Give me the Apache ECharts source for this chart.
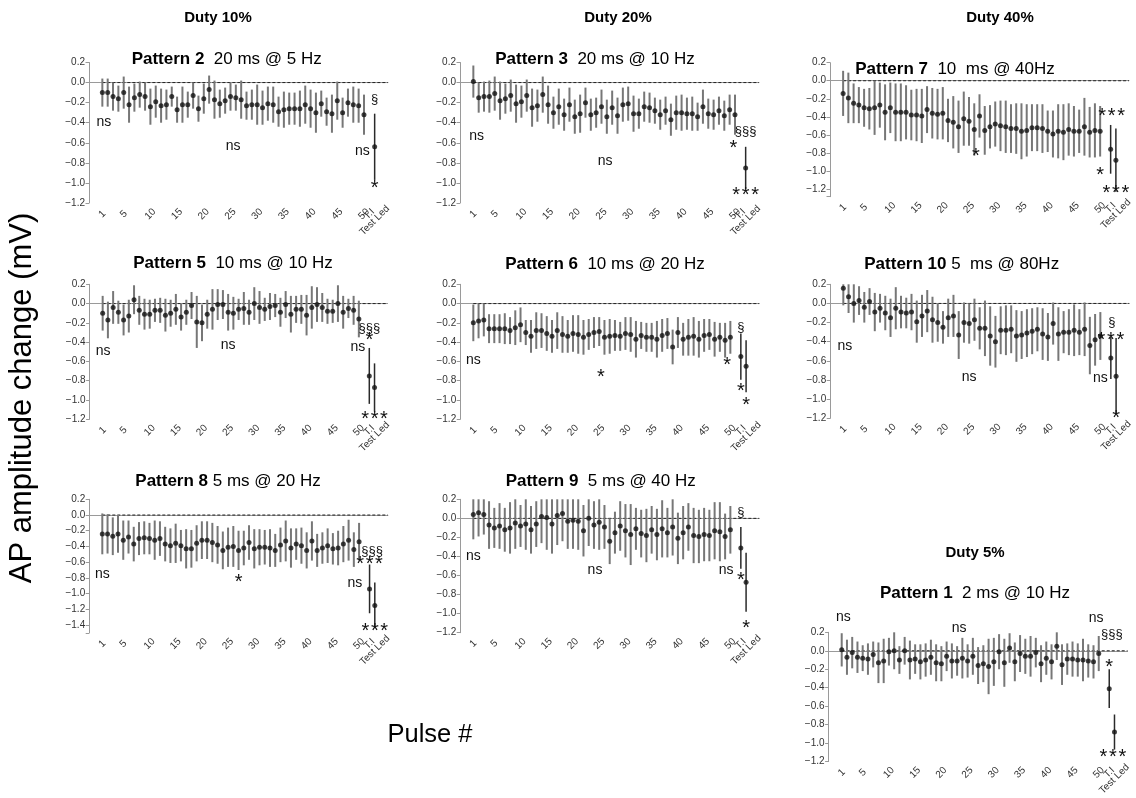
<!DOCTYPE html>
<html><head><meta charset="utf-8">
<script src="https://cdn.jsdelivr.net/npm/echarts@6/dist/echarts.min.js"></script>
<style>html,body{margin:0;padding:0;background:#fff}#c{width:1136px;height:798px}</style>
</head><body><div id="c"></div>
<script>
// ---------- categories / tick labels ----------
const pulseLabels = ['1','2','3','4','5','6','7','8','9','10','11','12','13','14','15','16','17','18','19','20','21','22','23','24','25','26','27','28','29','30','31','32','33','34','35','36','37','38','39','40','41','42','43','44','45','46','47','48','49','50'];
const catsShort = pulseLabels.concat(['T.I','Test Led']);          // 52 positions
const catsLong  = pulseLabels.concat(['', 'T.I','Test Led']);      // 53 positions
const shownTickLabels = ['1','5','10','15','20','25','30','35','40','45','50','T.I','Test Led'];

// ---------- series values (mean, error half-length) ----------
const p2Mean = [-0.10,-0.10,-0.14,-0.16,-0.10,-0.22,-0.15,-0.12,-0.14,-0.24,-0.19,-0.23,-0.22,-0.14,-0.27,-0.22,-0.22,-0.13,-0.26,-0.16,-0.07,-0.17,-0.21,-0.18,-0.14,-0.15,-0.17,-0.23,-0.22,-0.22,-0.25,-0.21,-0.22,-0.29,-0.27,-0.26,-0.26,-0.26,-0.22,-0.26,-0.30,-0.21,-0.29,-0.31,-0.18,-0.30,-0.20,-0.22,-0.23,-0.32, null,-0.64];
const p2Err  = [0.14,0.14,0.14,0.13,0.16,0.18,0.14,0.13,0.14,0.18,0.16,0.17,0.15,0.10,0.13,0.18,0.13,0.13,0.13,0.15,0.14,0.19,0.14,0.13,0.14,0.13,0.19,0.14,0.15,0.20,0.17,0.17,0.18,0.15,0.18,0.16,0.16,0.18,0.19,0.19,0.20,0.13,0.14,0.19,0.19,0.15,0.14,0.18,0.17,0.20, null,0.33];
const p3Mean = [0.01,-0.15,-0.14,-0.14,-0.11,-0.18,-0.16,-0.13,-0.21,-0.19,-0.13,-0.25,-0.23,-0.12,-0.22,-0.30,-0.24,-0.32,-0.22,-0.34,-0.31,-0.20,-0.32,-0.30,-0.24,-0.34,-0.25,-0.33,-0.22,-0.21,-0.31,-0.31,-0.24,-0.25,-0.28,-0.32,-0.28,-0.37,-0.30,-0.30,-0.31,-0.31,-0.34,-0.24,-0.31,-0.32,-0.28,-0.33,-0.27,-0.32, null,-0.85];
const p3Err  = [0.16,0.15,0.15,0.16,0.17,0.19,0.15,0.16,0.19,0.16,0.16,0.19,0.16,0.18,0.19,0.16,0.18,0.16,0.17,0.17,0.19,0.15,0.16,0.15,0.17,0.17,0.17,0.18,0.17,0.17,0.18,0.15,0.15,0.15,0.13,0.15,0.14,0.16,0.17,0.18,0.16,0.17,0.14,0.17,0.15,0.15,0.14,0.15,0.15,0.20, null,0.21];
const p7Mean = [-0.14,-0.19,-0.25,-0.27,-0.30,-0.31,-0.30,-0.27,-0.35,-0.30,-0.35,-0.35,-0.35,-0.38,-0.38,-0.39,-0.32,-0.36,-0.37,-0.36,-0.44,-0.46,-0.51,-0.42,-0.45,-0.54,-0.39,-0.55,-0.51,-0.48,-0.50,-0.51,-0.53,-0.53,-0.56,-0.55,-0.52,-0.52,-0.53,-0.56,-0.59,-0.56,-0.57,-0.54,-0.56,-0.56,-0.51,-0.57,-0.55,-0.56, null,-0.76,-0.88];
const p7Err  = [0.25,0.28,0.22,0.20,0.21,0.23,0.30,0.25,0.31,0.28,0.32,0.32,0.30,0.28,0.29,0.30,0.26,0.28,0.28,0.29,0.24,0.29,0.29,0.30,0.27,0.29,0.24,0.27,0.24,0.25,0.28,0.29,0.27,0.28,0.31,0.29,0.26,0.26,0.27,0.23,0.26,0.30,0.31,0.29,0.28,0.24,0.32,0.28,0.30,0.28, null,0.27,0.35];
const p5Mean = [-0.10,-0.17,-0.04,-0.09,-0.17,-0.13,0.04,-0.07,-0.11,-0.11,-0.07,-0.07,-0.12,-0.10,-0.06,-0.14,-0.09,-0.02,-0.19,-0.20,-0.11,-0.06,-0.01,-0.01,-0.09,-0.10,-0.06,-0.05,-0.09,0.00,-0.04,-0.06,-0.03,-0.02,-0.09,-0.01,-0.11,-0.06,-0.06,-0.12,-0.04,-0.01,-0.04,-0.08,-0.08,0.00,-0.09,-0.05,-0.07,-0.16, null,-0.75,-0.87];
const p5Err  = [0.18,0.19,0.17,0.12,0.16,0.17,0.15,0.15,0.16,0.15,0.12,0.13,0.17,0.14,0.16,0.14,0.13,0.14,0.27,0.19,0.15,0.21,0.16,0.15,0.19,0.17,0.11,0.17,0.13,0.17,0.17,0.12,0.14,0.12,0.15,0.14,0.19,0.14,0.15,0.21,0.22,0.18,0.15,0.13,0.12,0.19,0.17,0.10,0.15,0.19, null,0.29,0.25];
const p6Mean = [-0.20,-0.18,-0.17,-0.26,-0.26,-0.26,-0.26,-0.28,-0.25,-0.22,-0.30,-0.34,-0.28,-0.28,-0.31,-0.34,-0.28,-0.32,-0.34,-0.31,-0.32,-0.35,-0.32,-0.30,-0.29,-0.35,-0.34,-0.33,-0.34,-0.31,-0.32,-0.37,-0.33,-0.35,-0.35,-0.37,-0.33,-0.31,-0.45,-0.30,-0.37,-0.35,-0.34,-0.37,-0.33,-0.32,-0.37,-0.35,-0.38,-0.35, null,-0.55,-0.65];
const p6Err  = [0.19,0.18,0.17,0.15,0.15,0.15,0.16,0.14,0.18,0.18,0.13,0.17,0.19,0.18,0.18,0.17,0.19,0.19,0.17,0.19,0.20,0.18,0.16,0.16,0.15,0.18,0.18,0.16,0.15,0.17,0.18,0.19,0.14,0.15,0.15,0.19,0.17,0.16,0.18,0.16,0.17,0.19,0.20,0.19,0.17,0.16,0.18,0.15,0.18,0.17, null,0.24,0.27];
const p10Mean = [0.16,0.07,0.00,0.03,-0.04,0.02,-0.09,-0.05,-0.10,-0.15,-0.05,-0.09,-0.10,-0.09,-0.19,-0.13,-0.08,-0.17,-0.20,-0.25,-0.15,-0.13,-0.33,-0.20,-0.21,-0.17,-0.26,-0.26,-0.34,-0.40,-0.28,-0.28,-0.27,-0.34,-0.33,-0.31,-0.29,-0.27,-0.32,-0.35,-0.21,-0.32,-0.30,-0.30,-0.28,-0.30,-0.27,-0.44,-0.38,-0.34, null,-0.57,-0.76];
const p10Err  = [0.18,0.17,0.20,0.15,0.16,0.14,0.20,0.15,0.18,0.20,0.22,0.17,0.16,0.19,0.22,0.22,0.22,0.24,0.20,0.17,0.20,0.22,0.25,0.21,0.21,0.22,0.22,0.29,0.31,0.27,0.25,0.26,0.25,0.27,0.25,0.25,0.24,0.23,0.27,0.25,0.22,0.28,0.22,0.24,0.27,0.24,0.28,0.30,0.27,0.25, null,0.22,0.40];
const p8Mean = [-0.24,-0.24,-0.27,-0.24,-0.32,-0.28,-0.37,-0.30,-0.29,-0.30,-0.32,-0.30,-0.37,-0.39,-0.36,-0.39,-0.43,-0.43,-0.36,-0.32,-0.32,-0.35,-0.38,-0.45,-0.41,-0.40,-0.45,-0.42,-0.35,-0.43,-0.41,-0.41,-0.42,-0.45,-0.38,-0.33,-0.42,-0.37,-0.39,-0.45,-0.33,-0.45,-0.42,-0.39,-0.43,-0.42,-0.37,-0.32,-0.44,-0.34, null,-0.94,-1.15];
const p8Err  = [0.26,0.25,0.24,0.24,0.25,0.21,0.22,0.21,0.21,0.20,0.25,0.22,0.22,0.22,0.25,0.20,0.25,0.24,0.23,0.24,0.24,0.25,0.24,0.24,0.25,0.26,0.25,0.22,0.22,0.25,0.23,0.22,0.24,0.21,0.22,0.26,0.25,0.20,0.23,0.23,0.25,0.21,0.20,0.22,0.20,0.22,0.23,0.26,0.22,0.24, null,0.31,0.29];
const p9Mean = [0.04,0.06,0.04,-0.07,-0.10,-0.08,-0.12,-0.10,-0.05,-0.08,-0.06,-0.12,-0.06,0.02,0.01,-0.06,0.03,0.05,-0.03,-0.02,-0.03,-0.13,0.00,-0.07,-0.04,-0.09,-0.24,-0.15,-0.08,-0.13,-0.17,-0.11,-0.16,-0.18,-0.12,-0.17,-0.11,-0.15,-0.09,-0.21,-0.15,-0.09,-0.18,-0.19,-0.17,-0.18,-0.13,-0.14,-0.19,-0.12, null,-0.31,-0.67];
const p9Err  = [0.26,0.25,0.21,0.25,0.21,0.24,0.23,0.27,0.27,0.22,0.27,0.25,0.24,0.28,0.34,0.31,0.31,0.29,0.29,0.30,0.30,0.27,0.29,0.25,0.29,0.23,0.24,0.22,0.26,0.28,0.32,0.22,0.25,0.28,0.25,0.27,0.30,0.26,0.30,0.27,0.28,0.25,0.29,0.28,0.28,0.27,0.30,0.31,0.24,0.25, null,0.22,0.31];
const p1Mean = [0.01,-0.07,-0.02,-0.07,-0.08,-0.09,-0.04,-0.13,-0.11,-0.01,0.00,-0.10,0.00,-0.10,-0.09,-0.12,-0.10,-0.07,-0.13,-0.14,-0.06,-0.11,-0.11,-0.08,-0.11,-0.06,-0.16,-0.14,-0.17,-0.12,-0.01,-0.13,0.03,-0.12,-0.03,-0.06,-0.06,-0.02,-0.14,-0.08,-0.12,0.05,-0.15,-0.09,-0.09,-0.10,-0.10,-0.11,-0.12,-0.03, null,-0.41,-0.88];
const p1Err  = [0.18,0.19,0.17,0.17,0.14,0.17,0.14,0.22,0.24,0.15,0.20,0.15,0.15,0.21,0.16,0.19,0.18,0.19,0.20,0.19,0.16,0.19,0.16,0.22,0.18,0.20,0.20,0.20,0.30,0.26,0.19,0.26,0.16,0.21,0.20,0.19,0.22,0.16,0.20,0.18,0.19,0.15,0.22,0.17,0.19,0.18,0.23,0.18,0.18,0.19, null,0.21,0.19];

// ---------- significance annotations: [pulse position, value, text] ----------
const p2Ann  = [[1.3,-0.39,'ns'],[25.5,-0.63,'ns'],[49.7,-0.68,'ns'],[52,-0.17,'§'],[52,-1.02,'*']];
const p3Ann  = [[1.6,-0.53,'ns'],[25.7,-0.78,'ns'],[52,-0.49,'§§§'],[49.7,-0.62,'*'],[52,-1.09,'***']];
const p7Ann  = [[26.3,-0.80,'*'],[52.2,-0.36,'***'],[50,-1.01,'*'],[53,-1.21,'***']];
const p5Ann  = [[1.1,-0.49,'ns'],[25,-0.43,'ns'],[49.8,-0.45,'ns'],[52,-0.26,'§§§'],[52,-0.35,'*'],[53,-1.17,'***']];
const p6Ann  = [[1,-0.59,'ns'],[25.3,-0.73,'*'],[49.4,-0.61,'*'],[52,-0.25,'§'],[52,-0.88,'*'],[53,-1.02,'*']];
const p10Ann = [[1.3,-0.45,'ns'],[25,-0.77,'ns'],[50,-0.78,'ns'],[52.2,-0.20,'§'],[52,-0.35,'***'],[53,-1.17,'*']];
const p8Ann  = [[1,-0.75,'ns'],[27,-0.82,'*'],[49.2,-0.87,'ns'],[52.5,-0.46,'§§§'],[52,-0.58,'***'],[53,-1.44,'***']];
const p9Ann  = [[1,-0.40,'ns'],[24.2,-0.54,'ns'],[49.2,-0.54,'ns'],[52,0.06,'§'],[52,-0.62,'*'],[53,-1.12,'*']];
const p1Ann  = [[1.3,0.36,'ns'],[23.4,0.25,'ns'],[49.5,0.35,'ns'],[52.5,0.18,'§§§'],[52,-0.14,'*'],[52.7,-1.12,'***']];

// ---------- panel layout ----------
const FONT = 'Liberation Sans, Arial, sans-serif';
const panels = [
  {name:'Pattern 2', desc:'  20 ms @ 5 Hz', cats:catsShort, mean:p2Mean, err:p2Err, ann:p2Ann, box:[89,62.5,299,140.5], ymin:-1.2, ymax:0.2, tp:[226.7,59]},
  {name:'Pattern 3', desc:'  20 ms @ 10 Hz', cats:catsShort, mean:p3Mean, err:p3Err, ann:p3Ann, box:[460,62.5,299,140.5], ymin:-1.2, ymax:0.2, tp:[595,59]},
  {name:'Pattern 7', desc:'  10  ms @ 40Hz', cats:catsLong, mean:p7Mean, err:p7Err, ann:p7Ann, box:[830,62.7,299,134], ymin:-1.285, ymax:0.2, tp:[955,69]},
  {name:'Pattern 5', desc:'  10 ms @ 10 Hz', cats:catsLong, mean:p5Mean, err:p5Err, ann:p5Ann, box:[89.6,284.3,298,135], ymin:-1.2, ymax:0.2, tp:[233,263]},
  {name:'Pattern 6', desc:'  10 ms @ 20 Hz', cats:catsLong, mean:p6Mean, err:p6Err, ann:p6Ann, box:[460.2,284.3,299,135], ymin:-1.2, ymax:0.2, tp:[605,264]},
  {name:'Pattern 10', desc:' 5  ms @ 80Hz', cats:catsLong, mean:p10Mean, err:p10Err, ann:p10Ann, box:[830.2,284.3,299,134], ymin:-1.2, ymax:0.2, tp:[961.7,264]},
  {name:'Pattern 8', desc:' 5 ms @ 20 Hz', cats:catsLong, mean:p8Mean, err:p8Err, ann:p8Ann, box:[89.2,499.3,298.7,133.6], ymin:-1.5, ymax:0.2, tp:[228,481]},
  {name:'Pattern 9', desc:'  5 ms @ 40 Hz', cats:catsLong, mean:p9Mean, err:p9Err, ann:p9Ann, box:[460.2,499.3,299,133.4], ymin:-1.2, ymax:0.2, tp:[600.7,481]},
  {name:'Pattern 1', desc:'  2 ms @ 10 Hz', cats:catsLong, mean:p1Mean, err:p1Err, ann:p1Ann, box:[828.6,632.3,299,133.4], ymin:-1.2, ymax:0.2, tp:[975,593]}
];

const isPad = v => v.indexOf('pad') === 0;
function fmtY(v){
  const q = v / 0.2;
  if (Math.abs(q - Math.round(q)) > 1e-6) return '';
  const s = Math.abs(v) < 1e-9 ? '0.0' : v.toFixed(1);
  return s.replace('-', '\u2212');
}
function fmtX(v){
  if (!shownTickLabels.includes(v)) return ' ';
  if (v === 'Test Led') return '{tl|Test Led}';
  return v;
}

const grids=[], xAxes=[], yAxes=[], series=[], graphics=[];
panels.forEach((p, k) => {
  grids.push({left:p.box[0], top:p.box[1], width:p.box[2], height:p.box[3]});
  const cats = ['pad0','pad1'].concat(p.cats, ['pad2','pad3']);
  xAxes.push({
    gridIndex:k, type:'category', data:cats, boundaryGap:true,
    axisLine:{lineStyle:{color:'#9a9a9a', width:1}},
    // the trailing dummy 'pad3' tick/label is dropped by showMaxLabel:false
    axisTick:{alignWithLabel:true, length:3, interval:(i,v)=>!isPad(v) || v === 'pad3', lineStyle:{color:'#9a9a9a'}},
    axisLabel:{interval:(i,v)=>shownTickLabels.includes(v) || v === 'pad3', formatter:fmtX, rotate:45, align:'center', verticalAlign:'middle',
      showMinLabel:true, showMaxLabel:false, hideOverlap:false,
      margin:11, fontSize:10, color:'#333', fontFamily:FONT,
      rich:{tl:{padding:[9,9,0,0], fontSize:10, color:'#333', fontFamily:FONT}}},
    splitLine:{show:false}
  });
  yAxes.push({
    gridIndex:k, type:'value', min:p.ymin, max:p.ymax, splitNumber:7, minInterval:0.2, maxInterval:0.2,
    axisLine:{show:true, lineStyle:{color:'#9a9a9a'}},
    axisTick:{show:true, length:3.5, lineStyle:{color:'#9a9a9a'}},
    axisLabel:{formatter:fmtY, fontSize:10, color:'#333', margin:4, fontFamily:FONT},
    splitLine:{show:false}
  });
  // dashed zero reference line from pulse 1 to the right end of the axis
  series.push({
    type:'custom', xAxisIndex:k, yAxisIndex:k, silent:true, data:[[2,0]],
    renderItem:(params, api) => {
      const a = api.coord([2, 0]);
      const cs = params.coordSys;
      return {type:'line', shape:{x1:a[0], y1:a[1], x2:cs.x+cs.width, y2:a[1]},
        style:{stroke:'#222', lineWidth:1, lineDash:[3,2]}};
    }
  });
  // error bars
  const errData = [];
  p.mean.forEach((m, j) => { if (m !== null) errData.push([j+2, m, p.err[j], j >= 50 ? 1 : 0]); });
  series.push({
    type:'custom', xAxisIndex:k, yAxisIndex:k, silent:true, data:errData,
    renderItem:(params, api) => {
      const i = api.value(0), m = api.value(1), e = api.value(2), dark = api.value(3);
      const cs = params.coordSys;
      const t = api.coord([i, m + e]), b = api.coord([i, m - e]);
      const y1 = Math.max(t[1], cs.y), y2 = Math.min(b[1], cs.y + cs.height);
      return {type:'line', shape:{x1:t[0], y1:y1, x2:t[0], y2:y2},
        style:{stroke: dark ? '#2a2a2a' : '#777', lineWidth: dark ? 1.5 : 2}};
    }
  });
  // means
  const ptData = [];
  p.mean.forEach((m, j) => { if (m !== null) ptData.push([j+2, m]); });
  series.push({type:'scatter', xAxisIndex:k, yAxisIndex:k, silent:true, data:ptData,
    symbol:'circle', symbolSize:5, itemStyle:{color:'#111'}, clip:false});
  // annotations
  const annList = p.ann;
  series.push({
    type:'custom', xAxisIndex:k, yAxisIndex:k, silent:true, clip:false,
    data: annList.map(a => [Math.round(a[0]) + 1, a[1]]),
    renderItem:(params, api) => {
      const a = annList[params.dataIndex];
      const x = a[0] + 1, i0 = Math.floor(x), f = x - i0;
      const c0 = api.coord([i0, a[1]]), c1 = api.coord([i0 + 1, a[1]]);
      const px = c0[0] + f * (c1[0] - c0[0]);
      let size = 14, dy = 0, txt = a[2];
      if (txt.indexOf('*') === 0) { size = 20; dy = 3.5; txt = txt.split('').join('\u200A'); }
      else if (txt.indexOf('§') === 0) { size = 13; }
      return {type:'text', x:px, y:c0[1] + dy,
        style:{text:txt, fill:'#111', font: size + 'px ' + FONT,
          align:'center', verticalAlign:'middle', textAlign:'center', textVerticalAlign:'middle'}};
    }
  });
  graphics.push({type:'text', x:p.tp[0], y:p.tp[1],
    style:{text:'{b|' + p.name + '}{n|' + p.desc + '}', fill:'#000',
      align:'center', verticalAlign:'middle', textAlign:'center', textVerticalAlign:'middle',
      rich:{b:{fontSize:17, fontWeight:'bold', fontFamily:FONT, fill:'#000'}, n:{fontSize:17, fontFamily:FONT, fill:'#000'}}}});
});

const heads = [['Duty 10%',218,18],['Duty 20%',618,18],['Duty 40%',1000,18],['Duty 5%',975,553]];
heads.forEach(h => graphics.push({type:'text', x:h[1], y:h[2],
  style:{text:h[0], fill:'#000', font:'bold 15px ' + FONT, align:'center', verticalAlign:'middle', textAlign:'center', textVerticalAlign:'middle'}}));
graphics.push({type:'text', x:22, y:398, rotation:Math.PI/2,
  style:{text:'AP amplitude change (mV)', fill:'#000', font:'31px ' + FONT, align:'center', verticalAlign:'middle', textAlign:'center', textVerticalAlign:'middle'}});
graphics.push({type:'text', x:430, y:735,
  style:{text:'Pulse #', fill:'#000', font:'25.5px ' + FONT, align:'center', verticalAlign:'middle', textAlign:'center', textVerticalAlign:'middle'}});

const chart = echarts.init(document.getElementById('c'));
chart.setOption({
  animation:false, backgroundColor:'#fff',
  grid:grids, xAxis:xAxes, yAxis:yAxes, series:series, graphic:graphics
});
</script></body></html>
